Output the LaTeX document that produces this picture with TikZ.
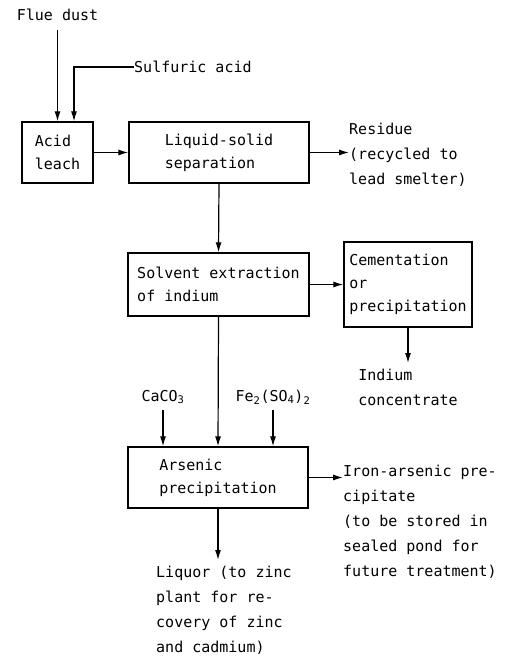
\documentclass[tikz,border=0pt]{standalone}
\usepackage{fontspec}
\setmainfont{DejaVu Sans Mono}
\usetikzlibrary{arrows.meta,positioning}

\begin{document}
\begin{tikzpicture}[x=1pt,y=-1pt,
  txt/.style={font=\fontsize{15}{25}\selectfont, inner sep=0pt, align=left},
  proc/.style={draw, line width=1.3pt, font=\fontsize{15}{23}\selectfont, align=left, inner sep=0pt},
  flow/.style={line width=1.2pt, -{Latex[length=10pt,width=6pt]}}]
\useasboundingbox (0,0) rectangle (508,663);

% feeds and leaching
\node[txt] (flue) at (57.5,15) {Flue dust};
\node[txt, anchor=west] (sulf) at (134,67) {Sulfuric acid};
\node[proc, minimum width=71, minimum height=61] (leach) at (57.5,152.5) {Acid\\leach};
\node[proc, minimum width=180, minimum height=61] (lss) at (219,152.5) {Liquid-solid\\separation};
\node[txt, anchor=west] (res) at (349,155) {Residue\\(recycled to\\lead smelter)};

\draw[flow, shorten <=9pt] (flue.south) -- (leach.north);
\draw[flow] (sulf.west) -| ([xshift=16.5pt]leach.north);
\draw[flow] (leach.east) -- (lss.west);
\draw[flow] (lss.east) -- (lss.east -| res.west);

% indium recovery
\node[proc, minimum width=181, minimum height=63] (sx) at (218.5,284.5) {Solvent extraction\\of indium};
\node[proc, minimum width=128, minimum height=85] (cem) at (408,284.5) {Cementation\\or\\precipitation};
\node[txt, anchor=north] (ind) at (408,369) {Indium\\concentrate};

\draw[flow] (lss.south) -- (sx.north);
\draw[flow] (sx.east) -- (cem.west);
\draw[flow] (cem.south) -- ([yshift=6pt]ind.north);

% arsenic removal
\node[txt] (caco) at (163,397) {CaCO\textsubscript{3}};
\node[txt] (fes) at (273,397) {Fe\textsubscript{2}(SO\textsubscript{4})\textsubscript{2}};
\node[proc, minimum width=180, minimum height=61] (ars) at (218,477.5) {Arsenic\\precipitation};
\node[txt, anchor=north west] (iron) at (343,465) {Iron-arsenic pre-\\cipitate\\(to be stored in\\sealed pond for\\future treatment)};
\node[txt, anchor=north west] (liq) at (156,566) {Liquor (to zinc\\plant for re-\\covery of zinc\\and cadmium)};

\draw[flow] (sx.south) -- (ars.north);
\draw[flow, shorten <=6pt] (caco.south) -- (caco.south |- ars.north);
\draw[flow, shorten <=6pt] (fes.south) -- (fes.south |- ars.north);
\draw[flow] (ars.east) -- (ars.east -| iron.west);
\draw[flow] (ars.south) -- ([yshift=6pt]ars.south |- liq.north);
\end{tikzpicture}
\end{document}
